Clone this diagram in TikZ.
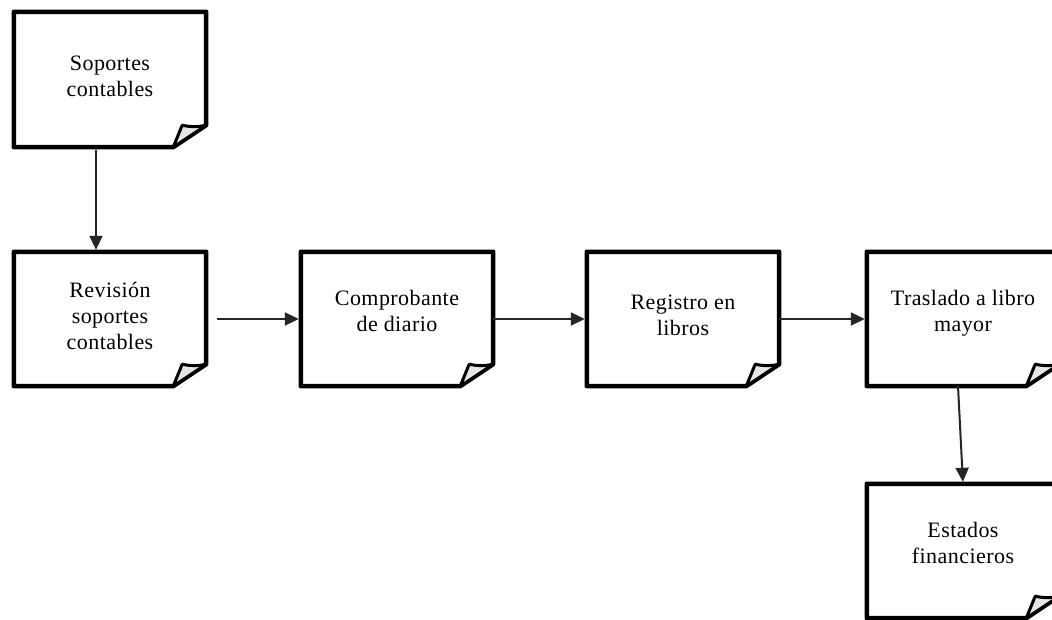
\documentclass[tikz,border=0pt]{standalone}
\usepackage{fontspec}
\setmainfont{Liberation Serif}[LetterSpace=2]
\usetikzlibrary{arrows.meta}
\tikzset{
 notebox/.style={minimum width=192pt, minimum height=134pt, inner sep=0pt},
 lbl/.style={align=center, inner sep=0pt, font=\fontsize{22}{26}\selectfont},
 conn/.style={line width=2pt, draw=black!85, -{Triangle[length=14pt,width=13pt]}, shorten >=2pt},
 outline/.style={line width=4.5pt, line join=round},
 foldst/.style={line width=3pt, line join=round, fill=gray!20},
}
\newcommand\noteoutline[1]{%
 \draw[outline] (#1.north west) -- (#1.north east) -- ([yshift=22pt]#1.south east) -- ([xshift=-33pt]#1.south east) -- (#1.south west) -- cycle;
 \draw[foldst] ([xshift=-33pt]#1.south east) -- ([xshift=-24pt,yshift=22pt]#1.south east) to[bend right=12] ([yshift=22pt]#1.south east) -- cycle;}
\begin{document}
\begin{tikzpicture}[x=1pt,y=-1pt]
\useasboundingbox (0,0) rectangle (1052,619);
\node[notebox,minimum height=135pt,label={[lbl,yshift=3pt]center:{Soportes\\contables}}] (b1) at (110,79.5) {};
\node[notebox,label={[lbl,yshift=3pt]center:{Revisión\\soportes\\contables}}] (b2) at (110,319) {};
\node[notebox,label={[lbl,yshift=8pt]center:{Comprobante\\de diario}}] (b3) at (397,319) {};
\node[notebox,label={[lbl,yshift=4pt]center:{Registro en\\libros}}] (b4) at (683,319) {};
\node[notebox,label={[lbl,yshift=6pt]center:{Traslado a libro\\mayor}}] (b5) at (963,319) {};
\node[notebox,label={[lbl,yshift=8pt]center:{Estados\\financieros}}] (b6) at (963,551) {};
\foreach \n in {b1,b2,b3,b4,b5,b6}{\noteoutline{\n}}
\draw[conn] ([xshift=-14pt,yshift=-3pt]b1.south) -- ([xshift=-14pt]b2.north);
\draw[conn] ([xshift=11pt]b2.east) -- (b3.west);
\draw[conn] (b3.east) -- (b4.west);
\draw[conn] (b4.east) -- (b5.west);
\draw[conn] ([xshift=-5pt]b5.south) -- (b6.north);
\end{tikzpicture}
\end{document}
